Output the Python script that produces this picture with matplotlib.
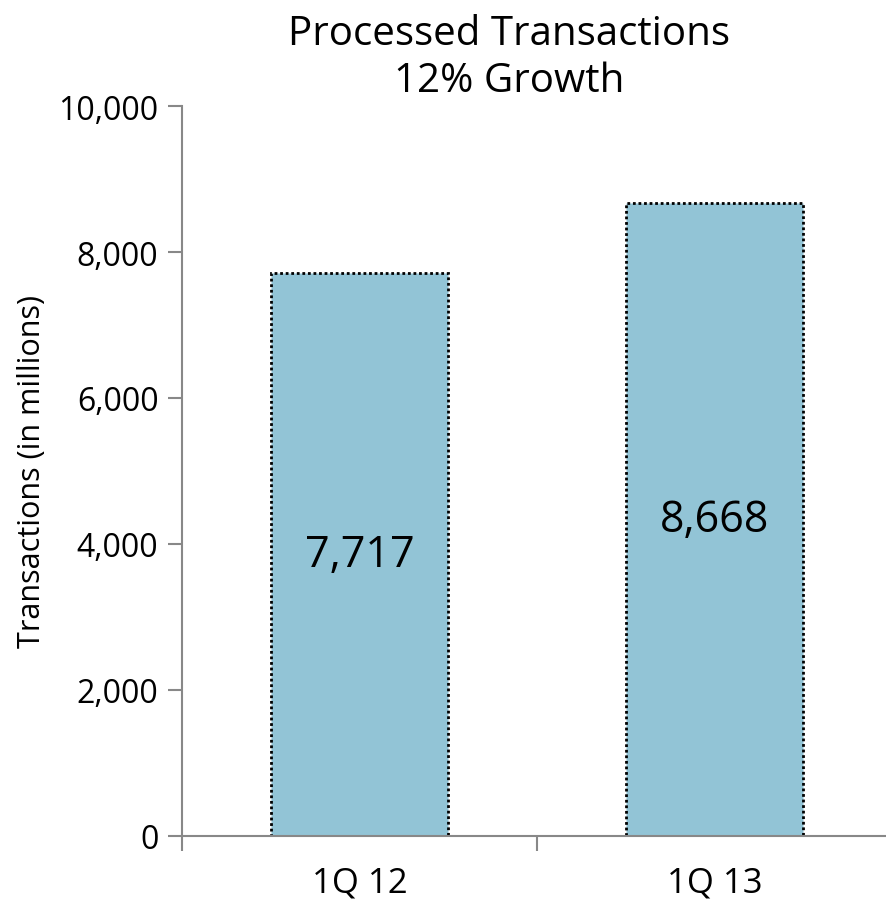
"""Processed transactions bar chart, 1Q 12 vs 1Q 13."""

import matplotlib
matplotlib.use("Agg")
import matplotlib.pyplot as plt
from matplotlib.ticker import FuncFormatter

categories = ["1Q 12", "1Q 13"]
transactions = [7717, 8668]
y_ticks = [0, 2000, 4000, 6000, 8000, 10000]

plt.rcParams["font.family"] = ["Open Sans", "DejaVu Sans"]

fig = plt.figure(figsize=(8.87, 9.03), dpi=100)
ax = fig.add_axes([0.2052, 0.0731, 0.8005, 0.8084])

x = list(range(len(categories)))
bars = ax.bar(x, transactions, width=0.5, color="#92c4d6", edgecolor="black",
              linestyle=(0, (1, 1)), linewidth=2, zorder=2)

for rect, value in zip(bars, transactions):
    ax.text(rect.get_x() + rect.get_width() / 2, value / 2, f"{value:,}",
            ha="center", va="center", fontsize=31, color="black")

ax.set_xlim(-0.5, 1.5)
ax.set_ylim(0, 10000)
ax.set_yticks(y_ticks)
ax.yaxis.set_major_formatter(FuncFormatter(lambda v, _: f"{v:,.0f}"))
ax.set_xticks([-0.5, 0.5, 1.5])
ax.set_xticklabels([])
ax.set_xticks(x, minor=True)
ax.set_xticklabels(categories, minor=True)
ax.tick_params(axis="x", which="minor", length=0, labelsize=25, pad=21)
ax.tick_params(axis="x", which="major", length=11, width=1.5, color="#888888",
               direction="out")
ax.tick_params(axis="y", length=10, width=1.5, color="#888888", labelsize=23, pad=7)

for side in ("top", "right"):
    ax.spines[side].set_visible(False)
for side in ("left", "bottom"):
    ax.spines[side].set_color("#888888")
    ax.spines[side].set_linewidth(1.5)
    ax.spines[side].set_zorder(3)

ax.set_ylabel("Transactions (in millions)", fontsize=22)
ax.yaxis.set_label_coords(-0.19, 0.5)

fig.text(0.574, 0.984, "Processed Transactions\n12% Growth", fontsize=29,
         ha="center", va="top", linespacing=1.2)

fig.savefig("out.png", dpi=100)
